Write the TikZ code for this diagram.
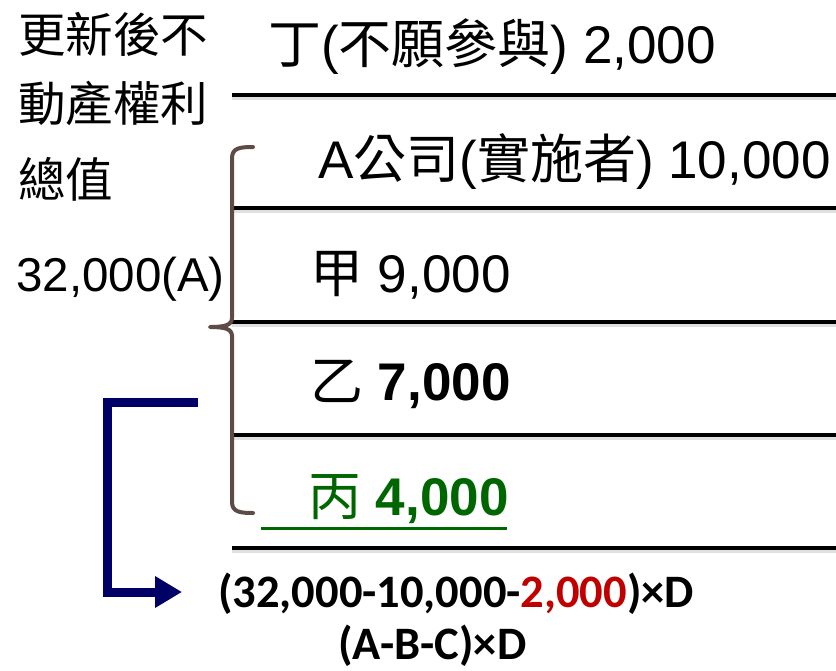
\documentclass[tikz,border=0pt]{standalone}
\usepackage{fontspec}
\setmainfont{Liberation Sans}
\newfontfamily\cjkf{Noto Sans CJK TC}
\newfontfamily\calf{Carlito}
\usetikzlibrary{arrows.meta}
\definecolor{brownbr}{HTML}{5E4B45}
\definecolor{navyar}{HTML}{000066}
\definecolor{greentx}{HTML}{006600}
\definecolor{redtx}{HTML}{C00000}
\newcommand{\zh}[1]{{\cjkf #1}}
\begin{document}
\begin{tikzpicture}[x=1pt,y=-1pt,
  big/.style={font=\fontsize{53}{60}\selectfont, inner sep=0pt, anchor=base west},
  lefttx/.style={font=\fontsize{47.5}{56}\selectfont, inner sep=0pt, anchor=base west},
  formula/.style={font=\calf\bfseries\fontsize{46.5}{54}\selectfont, inner sep=0pt, anchor=base west},
  sepline/.style={line width=4pt, black},
  shadowline/.style={line width=3pt, black!12},
]
\useasboundingbox (0,0) rectangle (836,670);
% separator lines
\foreach \yy/\nm in {95/l1,208/l2,322/l3,435/l4,548/l5}{
  \coordinate (\nm a) at (232,\yy);
  \coordinate (\nm b) at (836,\yy);
  \draw[shadowline] ([yshift=-3.5pt]\nm a) -- ([yshift=-3.5pt]\nm b);
  \draw[sepline] (\nm a) -- (\nm b);
}
% left labels
\node[lefttx] (t1) at (18,52) {\zh{更新後不}};
\node[lefttx] (t2) at (18,121) {\zh{動產權利}};
\node[lefttx] (t3) at (18,197) {\zh{總值}};
\node[lefttx] (t4) at (16,291) {32,000(A)};
% rows
\node[big] (r1) at (268,63) {\zh{丁}(\zh{不願參與}) 2,000};
\node[big] (r2) at (318,178) {A\zh{公司}(\zh{實施者}) 10,000};
\node[big] (r3) at (310,292) {\zh{甲} 9,000};
\node[big] (r4) at (310,400) {\zh{乙} \textbf{7,000}};
\node[big, text=greentx] (r5) at (308,515) {\zh{丙} \textbf{4,000}};
\coordinate (ua) at (261,528);
\coordinate (ub) at (507,528);
\draw[greentx, line width=3pt] (ua) -- (ub);
% brace
\draw[brownbr, line width=4pt, line cap=round, line join=round]
  (253,147) .. controls (240,147) and (232,148) .. (232,158)
  -- (232,318) .. controls (232,325) and (225,327) .. (210,327)
  .. controls (225,327) and (232,329) .. (232,336)
  -- (232,502) .. controls (232,512) and (240,513) .. (253,513);
% formula
\node[formula] (f1) at (218,607) {(32,000-10,000-\textcolor{redtx}{2,000})×D};
\node[formula] (f2) at (338,659) {(A-B-C)×D};
% arrow
\coordinate (as) at (198,402);
\coordinate (ac) at (107,402);
\coordinate (ad) at (107,592);
\coordinate (ae) at (182,592);
\draw[navyar, line width=9pt, -{Triangle[length=27pt,width=30pt]}]
  (as) -- (ac) -- (ad) -- (ae);
\end{tikzpicture}
\end{document}
